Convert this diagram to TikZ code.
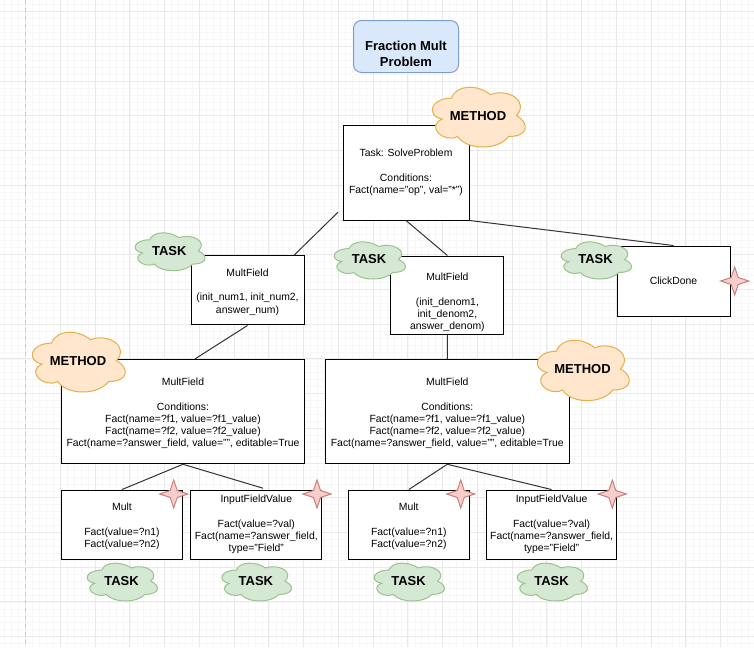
\documentclass[tikz,border=0pt]{standalone}
\usepackage{fontspec}
\setmainfont{Liberation Sans}
\definecolor{gridmajor}{HTML}{E9E9E9}
\definecolor{gridminor}{HTML}{F7F7F7}
\definecolor{pagebreak}{HTML}{CCCCCC}
\definecolor{titlefill}{HTML}{DAE8FC}
\definecolor{titleline}{HTML}{7F9FCB}
\definecolor{methodfill}{HTML}{FFE6CC}
\definecolor{methodline}{HTML}{E3B04B}
\definecolor{taskfill}{HTML}{D5E8D4}
\definecolor{taskline}{HTML}{9CC28C}
\definecolor{starfill}{HTML}{F8CECC}
\definecolor{starline}{HTML}{C9807C}
\definecolor{linkline}{HTML}{333333}
\tikzset{
  box/.style={draw=black,fill=white,line width=0.75pt,align=center,inner sep=0pt,
    font=\fontsize{7.8}{9.15}\selectfont},
  titlebox/.style={draw=titleline,fill=titlefill,line width=0.75pt,rounded corners=6pt,
    align=center,inner sep=0pt,font=\fontsize{9.75}{11.8}\selectfont\bfseries},
  link/.style={draw=linkline,line width=0.75pt},
  cloudtext/.style={inner sep=0pt,font=\fontsize{9.75}{11.8}\selectfont\bfseries},
  methodcloud/.style={draw=methodline,fill=methodfill,line width=0.75pt},
  taskcloud/.style={draw=taskline,fill=taskfill,line width=0.75pt},
  sparkle/.style={draw=starline,fill=starfill,line width=0.75pt,line join=miter},
  gridthin/.style={draw=gridminor,line width=0.6pt},
  gridthick/.style={draw=gridmajor,line width=0.75pt},
}
% name, style, xmin, ymin, xmax, ymax (visible extent in px), text
\newcommand{\cloudmark}[7]{%
  \pgfmathsetmacro{\cw}{(#5-#3)/0.905}%
  \pgfmathsetmacro{\ch}{(#6-#4)/0.86}%
  \pgfmathsetmacro{\ox}{#3-0.0625*\cw}%
  \pgfmathsetmacro{\oy}{#4-0.09*\ch}%
  \pgfmathsetmacro{\cwpt}{\cw*0.75}%
  \pgfmathsetmacro{\chpt}{\ch*0.75}%
  \begin{scope}[shift={(\ox,\oy)},x=\cwpt pt,y=-\chpt pt]
    \path[#2] (0.25,0.25)
      .. controls (0.05,0.25) and (0,0.5) .. (0.16,0.55)
      .. controls (0,0.66) and (0.18,0.9) .. (0.31,0.8)
      .. controls (0.4,1) and (0.7,1) .. (0.8,0.8)
      .. controls (1,0.8) and (1,0.6) .. (0.875,0.5)
      .. controls (1,0.3) and (0.8,0.1) .. (0.625,0.2)
      .. controls (0.5,0.05) and (0.3,0.05) .. (0.25,0.25) -- cycle;
  \end{scope}
  \node[cloudtext] (#1) at ({(#3+#5)/2-1},{(#4+#6)/2-1}) {#7};%
}
\newcommand{\sparkleat}[2]{%
  \begin{scope}[shift={(#1,#2)}]
    \path[sparkle] (0,-14) -- (3.5,-3.5) -- (14,0) -- (3.5,3.5) -- (0,14) -- (-3.5,3.5) -- (-14,0) -- (-3.5,-3.5) -- cycle;
  \end{scope}
}
\begin{document}
\begin{tikzpicture}[x=0.75pt,y=-0.75pt]
\useasboundingbox (0,0) rectangle (754,647);
\fill[white] (0,0) rectangle (754,647);
% background grid
\foreach \k in {-3,...,105} { \path[gridthin] ({25.7+6.95*\k},0) -- ({25.7+6.95*\k},647); }
\foreach \k in {-1,...,92} { \path[gridthin] (0,{11.7+6.945*\k}) -- (754,{11.7+6.945*\k}); }
\foreach \k in {0,...,21} { \path[gridthick] ({25.7+34.75*\k},0) -- ({25.7+34.75*\k},647); }
\foreach \k in {0,...,18} { \path[gridthick] (0,{11.7+34.72*\k}) -- (754,{11.7+34.72*\k}); }
\path[draw=pagebreak,line width=0.75pt,dashed] (25.7,0) -- (25.7,647);

% title
\node[titlebox,minimum width=78.75pt,minimum height=39pt] (title) at (406,46.5) {\mbox{}\\[6.75pt]Fraction Mult\\Problem};

% boxes
\node[box,minimum width=94.5pt,minimum height=71.25pt] (solve) at (406,172.5) {Task: SolveProblem\\[9.15pt]Conditions:\\Fact(name="op", val="*")};
\node[box,minimum width=84.75pt,minimum height=52pt] (numfield) at (247.5,290.3) {\mbox{}\\[-0.75pt]MultField\\[9.15pt](init\_num1, init\_num2,\\answer\_num)};
\node[box,minimum width=84.75pt,minimum height=58.5pt] (denfield) at (447.4,295) {\mbox{}\\[7.5pt]MultField\\[9.15pt](init\_denom1,\\init\_denom2,\\answer\_denom)};
\node[box,minimum width=84.75pt,minimum height=52.5pt] (click) at (673.5,281) {ClickDone};
\node[box,minimum width=182.75pt,minimum height=78.25pt] (numrule) at (183,411.6) {\mbox{}\\[-0.75pt]MultField\\[9.15pt]Conditions:\\Fact(name=?f1, value=?f1\_value)\\Fact(name=?f2, value=?f2\_value)\\Fact(name=?answer\_field, value="", editable=True};
\node[box,minimum width=183pt,minimum height=78.25pt] (denrule) at (447.3,411.6) {\mbox{}\\[-0.75pt]MultField\\[9.15pt]Conditions:\\Fact(name=?f1, value=?f1\_value)\\Fact(name=?f2, value=?f2\_value)\\Fact(name=?answer\_field, value="", editable=True};
\node[box,minimum width=91pt,minimum height=52pt] (multa) at (122,524.7) {\mbox{}\\[-0.75pt]Mult\\[9.15pt]Fact(value=?n1)\\Fact(value=?n2)};
\node[box,minimum width=98pt,minimum height=52pt] (inputa) at (256.3,524.7) {InputFieldValue\\[9.15pt]Fact(value=?val)\\Fact(name=?answer\_field,\\type="Field"};
\node[box,minimum width=91pt,minimum height=52pt] (multb) at (408.8,524.7) {\mbox{}\\[-0.75pt]Mult\\[9.15pt]Fact(value=?n1)\\Fact(value=?n2)};
\node[box,minimum width=98pt,minimum height=52pt] (inputb) at (551.6,524.7) {InputFieldValue\\[9.15pt]Fact(value=?val)\\Fact(name=?answer\_field,\\type="Field"};

% connectors
\path[link] ([xshift=-3.4pt,yshift=6.2pt]solve.south west) -- ([xshift=35pt]numfield.north);
\path[link] (solve.south) -- (denfield.north);
\path[link] (solve.south east) -- (click.north);
\path[link] (numfield.south) -- ([xshift=9pt]numrule.north);
\path[link] (denfield.south) -- (denrule.north);
\path[link] (numrule.south) -- (multa.north);
\path[link] (numrule.south) -- ([xshift=5pt,yshift=1pt]inputa.north);
\path[link] (denrule.south) -- (multb.north);
\path[link] (denrule.south) -- (inputb.north);

% sparkles
\sparkleat{173.7}{494}
\sparkleat{317}{494}
\sparkleat{460.7}{494}
\sparkleat{612.3}{494}
\sparkleat{734.7}{281}

% clouds
\cloudmark{cm1}{methodcloud}{432}{87}{526}{147}{METHOD}
\cloudmark{cm2}{methodcloud}{32}{332}{126}{392}{METHOD}
\cloudmark{cm3}{methodcloud}{537}{340}{630}{400.6}{METHOD}
\cloudmark{ct1}{taskcloud}{135}{232.7}{205.6}{270.7}{TASK}
\cloudmark{ct2}{taskcloud}{334}{241.7}{406}{279}{TASK}
\cloudmark{ct3}{taskcloud}{561}{241.7}{632}{279}{TASK}
\cloudmark{ct4}{taskcloud}{87}{563}{158}{601}{TASK}
\cloudmark{ct5}{taskcloud}{221.7}{563}{292}{601}{TASK}
\cloudmark{ct6}{taskcloud}{374}{563}{445}{601}{TASK}
\cloudmark{ct7}{taskcloud}{517}{563}{588}{601}{TASK}
\end{tikzpicture}
\end{document}
